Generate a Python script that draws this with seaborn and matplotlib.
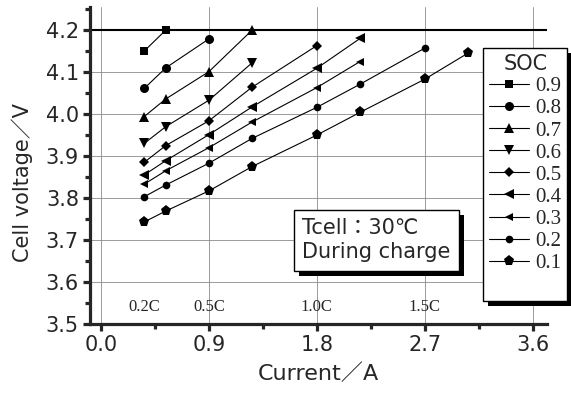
import pandas as pd
import matplotlib.pyplot as plt
import seaborn as sns
from matplotlib.lines import Line2D
from matplotlib.patches import Rectangle
from matplotlib.ticker import MultipleLocator

sns.set_style("ticks")
plt.rcParams["font.family"] = ["DejaVu Sans", "Noto Sans CJK JP"]

# charge current (A): 0.2C, 0.3C, 0.5C, 0.7C, 1.0C, 1.2C, 1.5C, 1.7C
current = [0.36, 0.54, 0.9, 1.26, 1.8, 2.16, 2.7, 3.06]

soc_levels = [0.9, 0.8, 0.7, 0.6, 0.5, 0.4, 0.3, 0.2, 0.1]
v_soc09 = [4.150, 4.200]
v_soc08 = [4.061, 4.110, 4.179]
v_soc07 = [3.994, 4.036, 4.101, 4.200]
v_soc06 = [3.930, 3.970, 4.033, 4.122]
v_soc05 = [3.885, 3.925, 3.984, 4.064, 4.163]
v_soc04 = [3.855, 3.889, 3.951, 4.017, 4.109, 4.180]
v_soc03 = [3.833, 3.865, 3.920, 3.981, 4.063, 4.125]
v_soc02 = [3.803, 3.831, 3.883, 3.942, 4.016, 4.071, 4.157]
v_soc01 = [3.743, 3.769, 3.817, 3.875, 3.950, 4.004, 4.083, 4.145]
voltages = [v_soc09, v_soc08, v_soc07, v_soc06, v_soc05,
            v_soc04, v_soc03, v_soc02, v_soc01]

c_rate_labels = ["0.2C", "0.5C", "1.0C", "1.5C"]
c_rate_pos = [0.36, 0.9, 1.8, 2.7]

markers = ["s", "o", "^", "v", "D", "<", "<", "o", "p"]
msizes = [6, 6.5, 7, 7, 5.5, 7, 5.5, 5.5, 8]

rows = []
for soc, vs in zip(soc_levels, voltages):
    for i, v in zip(current, vs):
        rows.append({"soc": soc, "current": i, "voltage": v})
df = pd.DataFrame(rows)

fig = plt.figure(figsize=(5.71, 4.03), dpi=100)
ax = fig.add_axes([90 / 571, 1 - 324 / 403, (547 - 90) / 571, (324 - 7) / 403])

for soc, m, ms in zip(soc_levels, markers, msizes):
    sns.lineplot(data=df[df["soc"] == soc], x="current", y="voltage",
                 color="black", linewidth=0.8, marker=m, markersize=ms,
                 markeredgewidth=0, ax=ax, legend=False, zorder=3)

ax.set_xlim(-0.092, 3.72)
ax.set_ylim(3.5, 4.255)
ax.xaxis.set_major_locator(MultipleLocator(0.9))
ax.xaxis.set_minor_locator(MultipleLocator(0.45))
ax.yaxis.set_major_locator(MultipleLocator(0.1))
ax.yaxis.set_minor_locator(MultipleLocator(0.05))
ax.xaxis.set_major_formatter(lambda v, p: f"{v:.1f}")
ax.yaxis.set_major_formatter(lambda v, p: f"{v:.1f}")

ax.grid(True, which="major", color="#8a8a8a", linewidth=0.6)
ax.axhline(4.2, color="black", linewidth=1.5, zorder=2)

for s in ["top", "right"]:
    ax.spines[s].set_visible(False)
for s in ["left", "bottom"]:
    ax.spines[s].set_linewidth(2.3)
ax.tick_params(which="major", direction="out", length=5, width=2.3,
               labelsize=15, pad=3)
ax.tick_params(which="minor", direction="out", length=3.5, width=2.3)

ax.set_xlabel("Current／A", fontsize=16, labelpad=6)
ax.set_ylabel("Cell voltage／V", fontsize=15)
ax.yaxis.set_label_coords(-0.125, 0.445)

for lab, x in zip(c_rate_labels, c_rate_pos):
    ax.text(x, 3.53, lab, ha="center", va="baseline", fontsize=12,
            family="Liberation Serif")

# text box with a solid black shadow
box = ax.text(1.68, 3.752, "Tcell：30℃\nDuring charge", ha="left", va="top",
              fontsize=15, linespacing=1.25,
              family=["DejaVu Sans", "Noto Sans CJK JP"], zorder=6,
              bbox=dict(boxstyle="square,pad=0.4", fc="white", ec="black", lw=1))

handles = [Line2D([], [], color="black", lw=0.8, marker=m, markersize=ms,
                  markeredgewidth=0, label=str(s))
           for s, m, ms in zip(soc_levels, markers, msizes)]
handles.append(Line2D([], [], linestyle="none", label=" "))
leg = fig.legend(handles=handles, loc="upper left",
                 bbox_to_anchor=(483 / 571, 1 - 48 / 403),
                 bbox_transform=fig.transFigure, borderaxespad=0,
                 prop={"family": "Liberation Serif", "size": 15},
                 title="SOC", title_fontproperties={"family": "DejaVu Sans", "size": 15},
                 frameon=True, fancybox=False, framealpha=1, edgecolor="black",
                 handlelength=1.9, handletextpad=0.3, labelspacing=0.12,
                 borderpad=0.3)
leg.get_frame().set_linewidth(1)

fig.canvas.draw()
inv = fig.transFigure.inverted()
dx, dy = 5 / 571, 5 / 403
bb = leg.get_window_extent().transformed(inv)
fig.add_artist(Rectangle((bb.x0 + dx, bb.y0 - dy), bb.width, bb.height,
                         transform=fig.transFigure, fc="black", ec="none",
                         zorder=4.9))
tb = box.get_bbox_patch().get_window_extent().transformed(inv)
ax.add_patch(Rectangle((tb.x0 + dx, tb.y0 - dy), tb.width, tb.height,
                       transform=fig.transFigure, fc="black", ec="none",
                       zorder=5.5))

fig.savefig("out.png", dpi=100)
